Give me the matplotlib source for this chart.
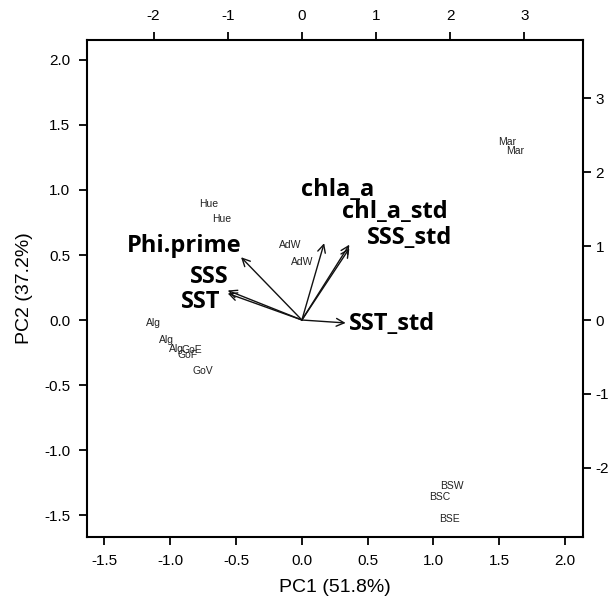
import matplotlib
matplotlib.use("Agg")
import matplotlib.pyplot as plt

# site scores (PC1, PC2)
sites = ["Mar", "Mar", "Hue", "Hue", "AdW", "AdW", "Alg", "Alg", "Alg",
         "GoE", "GoF", "GoV", "BSW", "BSC", "BSE"]
pc1 = [1.56, 1.62, -0.71, -0.61, -0.09, 0.0, -1.13, -1.03, -0.95,
       -0.84, -0.87, -0.75, 1.14, 1.05, 1.12]
pc2 = [1.37, 1.30, 0.89, 0.78, 0.58, 0.45, -0.02, -0.15, -0.22,
       -0.23, -0.27, -0.39, -1.28, -1.36, -1.53]

# variable loadings (arrow tips, top/right scale)
variables = ["chla_a", "chl_a_std", "SSS_std", "Phi.prime", "SSS", "SST", "SST_std"]
load1 = [0.30, 0.64, 0.64, -0.82, -1.0, -1.0, 0.59]
load2 = [1.04, 1.02, 0.97, 0.85, 0.40, 0.36, -0.04]
# where the variable names sit
lab1 = [0.48, 1.25, 1.45, -1.59, -1.25, -1.36, 1.22]
lab2 = [1.76, 1.46, 1.11, 1.00, 0.58, 0.24, -0.05]

xlim = (-1.633, 2.136)
ylim = (-1.669, 2.154)
sx, sy = 1.774, 1.760

plt.rcParams['font.family'] = ['Liberation Sans', 'DejaVu Sans']
plt.rcParams['axes.unicode_minus'] = False

fig = plt.figure(figsize=(6.1, 6.02), dpi=100)
rect = [0.1426, 0.108, 0.8131, 0.8256]
ax = fig.add_axes(rect)
ax.set_xlim(*xlim)
ax.set_ylim(*ylim)
ax.set_xticks([-1.5, -1.0, -0.5, 0.0, 0.5, 1.0, 1.5, 2.0])
ax.set_yticks([-1.5, -1.0, -0.5, 0.0, 0.5, 1.0, 1.5, 2.0])
ax.set_xticklabels([f"{v:.1f}" for v in ax.get_xticks()])
ax.set_yticklabels([f"{v:.1f}" for v in ax.get_yticks()])
ax.tick_params(direction='out', length=6, width=1.3, labelsize=11, pad=6)
for s in ax.spines.values():
    s.set_linewidth(1.5)
ax.set_xlabel("PC1 (51.8%)", fontsize=14, labelpad=8)
ax.set_ylabel("PC2 (37.2%)", fontsize=14, labelpad=8)

for name, x, y in zip(sites, pc1, pc2):
    ax.text(x, y, name, fontsize=7.5, color='#222222', ha='center', va='center')

ax2 = fig.add_axes(rect, frame_on=False)
ax2.patch.set_visible(False)
ax2.set_xlim(xlim[0] * sx, xlim[1] * sx)
ax2.set_ylim(ylim[0] * sy, ylim[1] * sy)
ax2.xaxis.tick_top()
ax2.yaxis.tick_right()
ax2.set_xticks([-2, -1, 0, 1, 2, 3])
ax2.set_yticks([-2, -1, 0, 1, 2, 3])
ax2.tick_params(axis='x', direction='out', length=6, width=1.3, labelsize=11, pad=6)
ax2.tick_params(axis='y', direction='out', length=6, width=1.3, labelsize=11, pad=3)

for name, x, y, tx, ty in zip(variables, load1, load2, lab1, lab2):
    ax2.annotate('', xy=(x, y), xytext=(0, 0),
                 arrowprops=dict(arrowstyle='->', lw=1.0, color='#111111',
                                 mutation_scale=14, shrinkA=0, shrinkB=0))
    ax2.text(tx, ty, name, fontsize=17, fontweight='bold', family=['Open Sans', 'DejaVu Sans'],
             ha='center', va='center', color='black')

fig.savefig("out.png", dpi=100)
